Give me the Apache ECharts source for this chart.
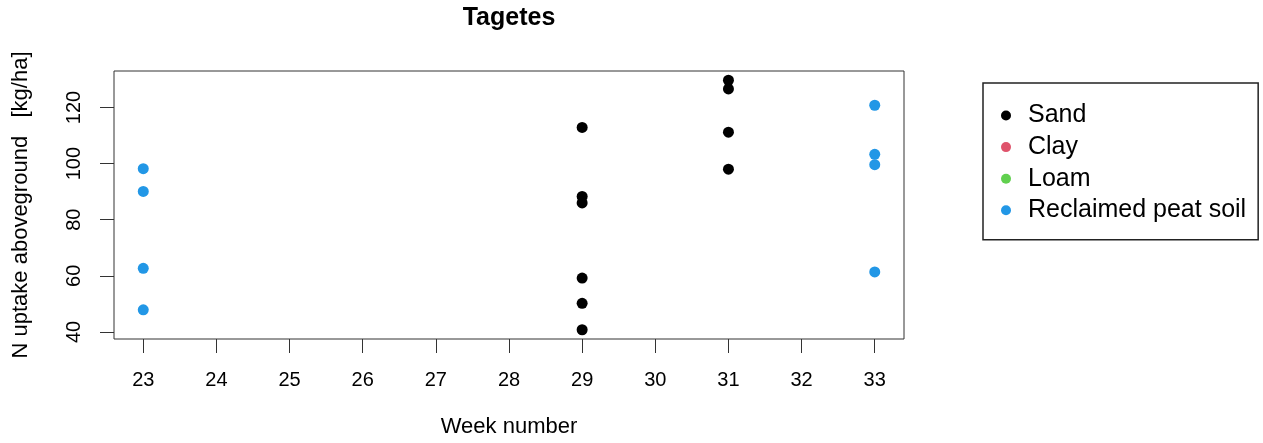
<!DOCTYPE html>
<html>
<head>
<meta charset="utf-8">
<script src="https://cdn.jsdelivr.net/npm/echarts@6/dist/echarts.min.js"></script>
<style>
  html, body { margin: 0; padding: 0; background: #fff; }
  #chart { width: 1263px; height: 443px; }
</style>
</head>
<body>
<div id="chart"></div>
<script>
// N uptake aboveground per week, by soil type
const soilTypes = ['Sand', 'Clay', 'Loam', 'Reclaimed peat soil'];
const soilColors = ['#000000', '#DF536B', '#61D04F', '#2297E6'];

const sandWeeks  = [29, 29, 29, 29, 29, 29, 31, 31, 31, 31];
const sandUptake = [112.9, 88.3, 86.0, 59.2, 50.2, 40.8, 129.7, 126.6, 111.2, 98.0];

const clayWeeks  = [];
const clayUptake = [];

const loamWeeks  = [];
const loamUptake = [];

const peatWeeks  = [23, 23, 23, 23, 33, 33, 33, 33];
const peatUptake = [98.2, 90.1, 62.7, 47.9, 120.8, 103.3, 99.6, 61.4];

const weekTicks = [23, 24, 25, 26, 27, 28, 29, 30, 31, 32, 33];
const uptakeTicks = [40, 60, 80, 100, 120];

const pairs = (xs, ys) => xs.map((x, i) => [x, ys[i]]);
const seriesData = [
  pairs(sandWeeks, sandUptake),
  pairs(clayWeeks, clayUptake),
  pairs(loamWeeks, loamUptake),
  pairs(peatWeeks, peatUptake)
];

const FONT = "'Liberation Sans', Arial, sans-serif";
const INK = '#333333';

const chart = echarts.init(document.getElementById('chart'), null, { renderer: 'canvas' });

chart.setOption({
  animation: false,
  backgroundColor: '#ffffff',
  title: {
    text: 'Tagetes',
    left: 509,
    top: 6,
    padding: 0,
    textAlign: 'center',
    textStyle: { fontFamily: FONT, fontSize: 25, fontWeight: 'bold', color: '#000' }
  },
  grid: {
    left: 114, top: 71, right: 359, bottom: 103,
    show: true, borderColor: INK, borderWidth: 1, backgroundColor: 'transparent'
  },
  legend: {
    orient: 'vertical',
    left: 983,
    top: 83,
    padding: [20, 12, 17, 18],
    itemGap: 6.6,
    itemWidth: 34,
    itemHeight: 10,
    icon: 'circle',
    borderColor: '#222',
    borderWidth: 1.5,
    borderRadius: 0,
    selectedMode: false,
    data: soilTypes,
    textStyle: { fontFamily: FONT, fontSize: 25, color: '#000', padding: [0, 0, 0, 0] }
  },
  xAxis: {
    type: 'value',
    min: 22.6,
    max: 33.4,
    name: 'Week number',
    nameLocation: 'middle',
    nameGap: 77,
    nameTextStyle: { fontFamily: FONT, fontSize: 22, color: '#000', verticalAlign: 'top' },
    splitLine: { show: false },
    axisLine: { show: false },
    axisTick: { show: true, length: 14, customValues: weekTicks, lineStyle: { color: INK, width: 1 } },
    axisLabel: { customValues: weekTicks, margin: 31, fontFamily: FONT, fontSize: 20, color: '#000' }
  },
  yAxis: {
    type: 'value',
    min: 37.5,
    max: 133,
    name: 'N uptake aboveground   [kg/ha]',
    nameLocation: 'middle',
    nameGap: 82,
    nameRotate: 90,
    nameTextStyle: { fontFamily: FONT, fontSize: 22, color: '#000' },
    splitLine: { show: false },
    axisLine: { show: false },
    axisTick: { show: true, length: 14, customValues: uptakeTicks, lineStyle: { color: INK, width: 1 } },
    axisLabel: { customValues: uptakeTicks, rotate: 90, margin: 30, fontFamily: FONT, fontSize: 20, color: '#000' }
  },
  series: soilTypes.map((name, i) => ({
    name: name,
    type: 'scatter',
    symbol: 'circle',
    symbolSize: 11,
    itemStyle: { color: soilColors[i], opacity: 1 },
    data: seriesData[i]
  }))
});
</script>
</body>
</html>
